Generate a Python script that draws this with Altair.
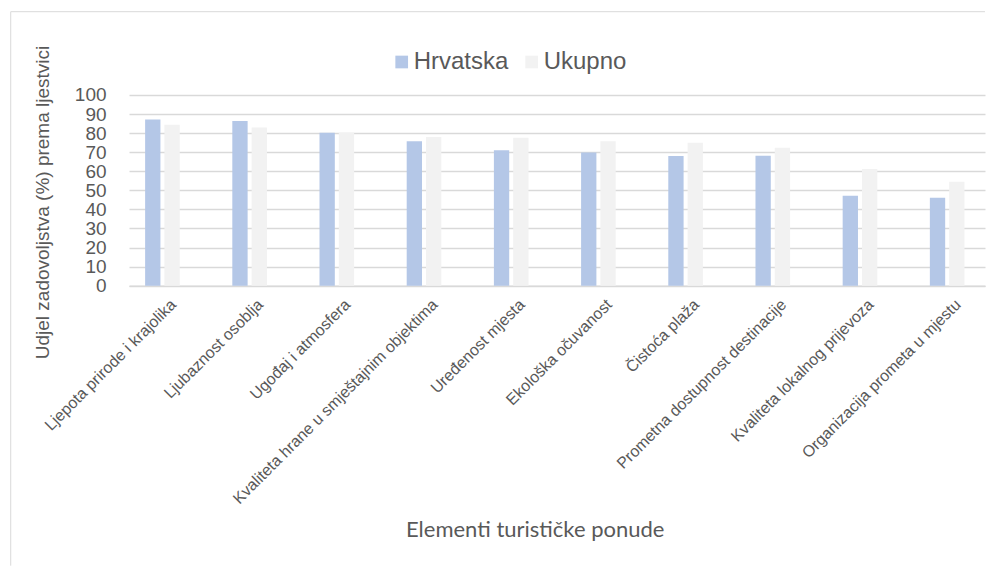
import altair as alt
import pandas as pd

categories = [
    "Ljepota prirode i krajolika",
    "Ljubaznost osoblja",
    "Ugođaj i atmosfera",
    "Kvaliteta hrane u smještajnim objektima",
    "Uređenost mjesta",
    "Ekološka očuvanost",
    "Čistoća plaža",
    "Prometna dostupnost destinacije",
    "Kvaliteta lokalnog prijevoza",
    "Organizacija prometa u mjestu",
]
hrvatska = [87.2, 86.4, 80.2, 75.7, 71.0, 69.9, 68.0, 68.2, 47.2, 46.1]
ukupno = [84.4, 83.0, 80.2, 78.0, 77.6, 75.7, 75.0, 72.4, 61.2, 54.5]
series = ["Hrvatska", "Ukupno"]
colors = ["#B4C7E7", "#F2F2F2"]
y_ticks = list(range(0, 101, 10))

rows = []
for c, h, u in zip(categories, hrvatska, ukupno):
    rows.append({"Element": c, "Serija": "Hrvatska", "Vrijednost": h})
    rows.append({"Element": c, "Serija": "Ukupno", "Vrijednost": u})
df = pd.DataFrame(rows)

TXT = "#595959"
GRID = "#D9D9D9"
FONT = "Arial, 'Liberation Sans', sans-serif"
W = 856
H = 190.7

bars = alt.Chart(df).mark_bar().encode(
    x=alt.X(
        "Element:N",
        sort=categories,
        scale=alt.Scale(paddingInner=0.603, paddingOuter=0.21, align=0.44, round=False),
        axis=alt.Axis(
            title="Elementi turističke ponude",
            labelAngle=-45,
            labelAlign="right",
            labelBaseline="middle",
            labelOffset=11,
            labelPadding=16,
            ticks=False,
            tickSize=0,
            domainColor=GRID,
            domainWidth=1.5,
            labelFont=FONT,
            labelFontSize=16,
            labelColor=TXT,
            labelLimit=0,
            labelOverlap=False,
            titleX=405.7,
            titleY=244,
            titleAlign="center",
            titleBaseline="middle",
            titleFont="Lato",
            titleFontSize=22,
            titleFontWeight="normal",
            titleColor=TXT,
        ),
    ),
    xOffset=alt.XOffset("Serija:N", sort=series, scale=alt.Scale(paddingInner=0.207, paddingOuter=0)),
    y=alt.Y(
        "Vrijednost:Q",
        scale=alt.Scale(domain=[0, 100], nice=False),
        axis=alt.Axis(
            values=y_ticks,
            title="Udjel zadovoljstva (%) prema ljestvici",
            grid=True,
            gridColor=GRID,
            gridWidth=1.5,
            domain=False,
            ticks=False,
            tickSize=0,
            labelPadding=23,
            labelFont=FONT,
            labelFontSize=19,
            labelColor=TXT,
            labelBaseline="middle",
            labelOverlap=False,
            labelFlush=False,
            titleX=-87,
            titleY=263.7,
            titleAngle=270,
            titleAlign="left",
            titleBaseline="middle",
            titleFont=FONT,
            titleFontSize=19,
            titleFontWeight="normal",
            titleColor=TXT,
            titleLimit=0,
        ),
    ),
    color=alt.Color(
        "Serija:N",
        sort=series,
        scale=alt.Scale(domain=series, range=colors),
        legend=alt.Legend(
            title=None,
            orient="none",
            legendX=260.7,
            legendY=-45,
            direction="horizontal",
            symbolType="square",
            symbolSize=161,
            symbolStrokeWidth=0,
            labelFont=FONT,
            labelFontSize=24,
            labelColor=TXT,
            labelOffset=0,
            columnPadding=11,
            labelLimit=0,
        ),
    ),
)

frame_df = pd.DataFrame({"k": [0]})
top_line = alt.Chart(frame_df).mark_rule(color=GRID, strokeWidth=1).encode(
    x=alt.value(-118.3), x2=alt.value(W), y=alt.value(-83.3)
)
left_line = alt.Chart(frame_df).mark_rule(color=GRID, strokeWidth=1).encode(
    x=alt.value(-118.3), y=alt.value(-83.3), y2=alt.value(470.7)
)

chart = alt.layer(bars, top_line, left_line).properties(
    width=W,
    height=H,
    padding={"left": 2, "top": 3, "right": 0, "bottom": 0},
    background="white",
).configure_view(stroke=None)

chart.save("out.html", embed_options={"renderer": "svg", "actions": False})
